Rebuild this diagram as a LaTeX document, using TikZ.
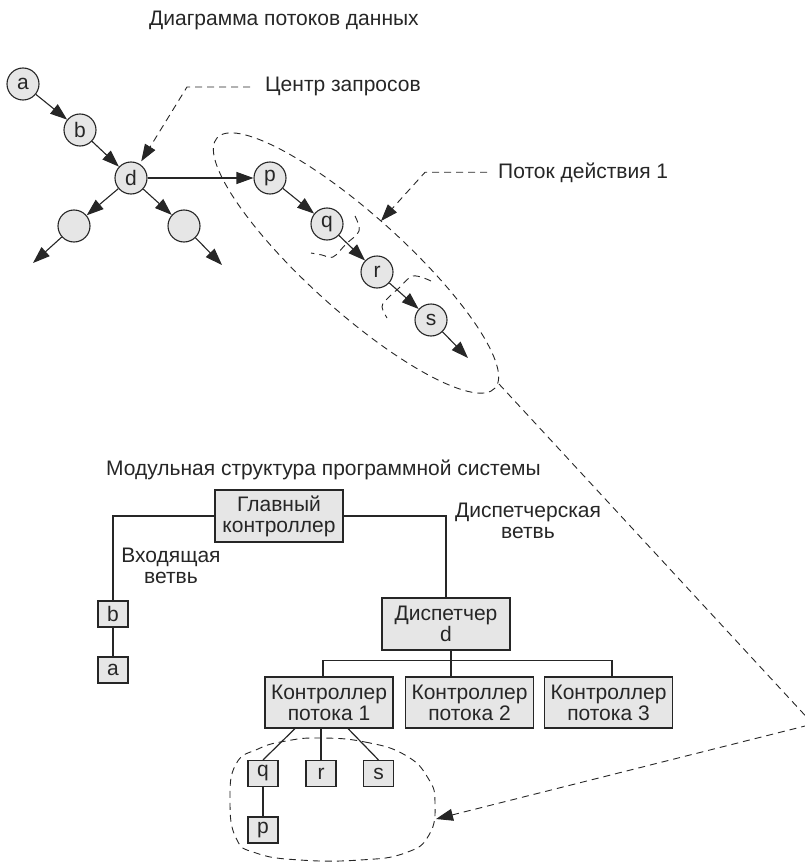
\documentclass[tikz,border=0pt]{standalone}
\usepackage{fontspec}
\setmainfont{Liberation Sans}
\usetikzlibrary{arrows.meta}

\definecolor{ink}{HTML}{262626}
\definecolor{nodefill}{HTML}{E6E6E6}

\begin{document}
\begin{tikzpicture}[
    x=1pt,
    y=-1pt,
    color=ink,
    >={Triangle[length=17pt,width=12pt]},
    font=\fontsize{21}{21}\selectfont,
    vertex/.style={circle, draw, line width=1.1pt, fill=nodefill, minimum size=32pt, inner sep=0pt},
    module/.style={draw, line width=1.1pt, fill=nodefill, minimum width=128pt, minimum height=52pt, align=center, inner sep=0pt},
    leaf/.style={draw, line width=1.1pt, fill=nodefill, minimum width=30pt, minimum height=26pt, inner sep=0pt},
    flow/.style={->, line width=1.1pt},
    link/.style={line width=1.2pt},
    group/.style={line width=0.9pt, dash pattern=on 7pt off 5pt},
    callout/.style={->, group},
    caption/.style={inner sep=0pt, anchor=base west},
    branch/.style={inner sep=0pt, align=center}
]

\useasboundingbox (0,0) rectangle (804,864);

% ---------------- Data flow diagram ----------------
\node[caption] (dfd) at (149,26) {Диаграмма потоков данных};

\node[vertex] (a) at (23,84) {a};
\node[vertex] (b) at (80,130) {b};
\node[vertex] (d) at (131,178) {d};
\node[vertex] (e1) at (74,226) {};
\node[vertex] (e2) at (184,226) {};
\node[vertex] (p) at (270,178) {p};
\node[vertex] (q) at (327,224) {q};
\node[vertex] (r) at (377,272) {r};
\node[vertex] (s) at (431,320) {s};

% free ends of the outgoing arrows
\coordinate (e1out) at (33,263);
\coordinate (e2out) at (222,265);
\coordinate (sout) at (468,358);

\draw[flow] (a) -- (b);
\draw[flow] (b) -- (d);
\draw[flow] (d) -- (e1);
\draw[flow] (d) -- (e2);
\draw[flow] (e1) -- (e1out);
\draw[flow] (e2) -- (e2out);
\draw[flow] (d) -- (p);
\draw[flow] (p) -- (q);
\draw[flow] (q) -- (r);
\draw[flow] (r) -- (s);
\draw[flow] (s) -- (sout);

% thread boundary and its sub-parts
\draw[group, rotate around={-42:(356,263)}] (356,263) ellipse [x radius=187, y radius=48];
\draw[group] plot[smooth, tension=0.6] coordinates {(355,216) (359,231) (346,244) (333,257) (322,255) (311,253)};
\draw[group] plot[smooth, tension=0.6] coordinates {(431,281) (413,276) (399,288) (386,300) (382,307) (387,318)};

% callouts
\node[caption] (hub) at (265,92) {Центр запросов};
\node[caption] (thread) at (498,178) {Поток действия 1};
\coordinate (threadtip) at (381,221);

\draw[callout, shorten >=3pt] ([xshift=-15pt]hub.west) -- ++(-63,0) -- (d);
\draw[callout] ([xshift=-11pt]thread.west) -- ++(-62,0) -- (threadtip);

% ---------------- Module structure ----------------
\node[caption] (msd) at (106,475) {Модульная структура программной системы};

% grouped thread modules (behind the boxes)
\draw[group] plot[smooth cycle, tension=0.8] coordinates {
    (320,738) (365,742) (405,755) (428,778) (435,803) (429,835)
    (405,853) (360,860) (300,860) (256,853) (236,838) (230,800)
    (236,764) (258,749) (286,741)};

\node[module] (main) at (279,516) {Главный\\контроллер};
\node[module] (disp) at (446,624) {Диспетчер\\d};
\node[module, minimum height=51pt] (c1) at (329,702.5) {Контроллер\\потока 1};
\node[module, minimum height=51pt] (c2) at (469.5,702.5) {Контроллер\\потока 2};
\node[module, minimum height=51pt] (c3) at (608.5,702.5) {Контроллер\\потока 3};

\node[leaf] (mb) at (113,614) {b};
\node[leaf] (ma) at (113,670) {a};
\node[leaf] (mq) at (263,773.5) {q};
\node[leaf] (mr) at (321,773.5) {r};
\node[leaf] (ms) at (378.5,773.5) {s};
\node[leaf] (mp) at (263,830) {p};

\node[branch] (inbr) at (171,566) {Входящая\\ветвь};
\node[branch] (dsbr) at (528,521) {Диспетчерская\\ветвь};

\draw[link] (main.west) -| (mb.north);
\draw[link] (mb) -- (ma);
\draw[link] (main.east) -| (disp.north);
\draw[link] ([xshift=5pt]disp.south) -- ([xshift=5pt]disp.south |- c2.north);
\draw[link] ([xshift=-6pt]c1.north) |- ([yshift=-10pt]disp.south) -| ([xshift=3.5pt]c3.north);
\draw[link] ([xshift=-34pt]c1.south) -- (mq.north);
\draw[link] (c1.south -| mr.north) -- (mr.north);
\draw[link] ([xshift=19pt]c1.south) -- (ms.north);
\draw[link] (mq) -- (mp);

% ---------------- Link between the two views ----------------
\coordinate (flowend) at (499,384);
\coordinate (bend) at (813,724);
\coordinate (grouptip) at (436,819);
\draw[callout] (flowend) -- (bend) -- (grouptip);

\end{tikzpicture}
\end{document}
